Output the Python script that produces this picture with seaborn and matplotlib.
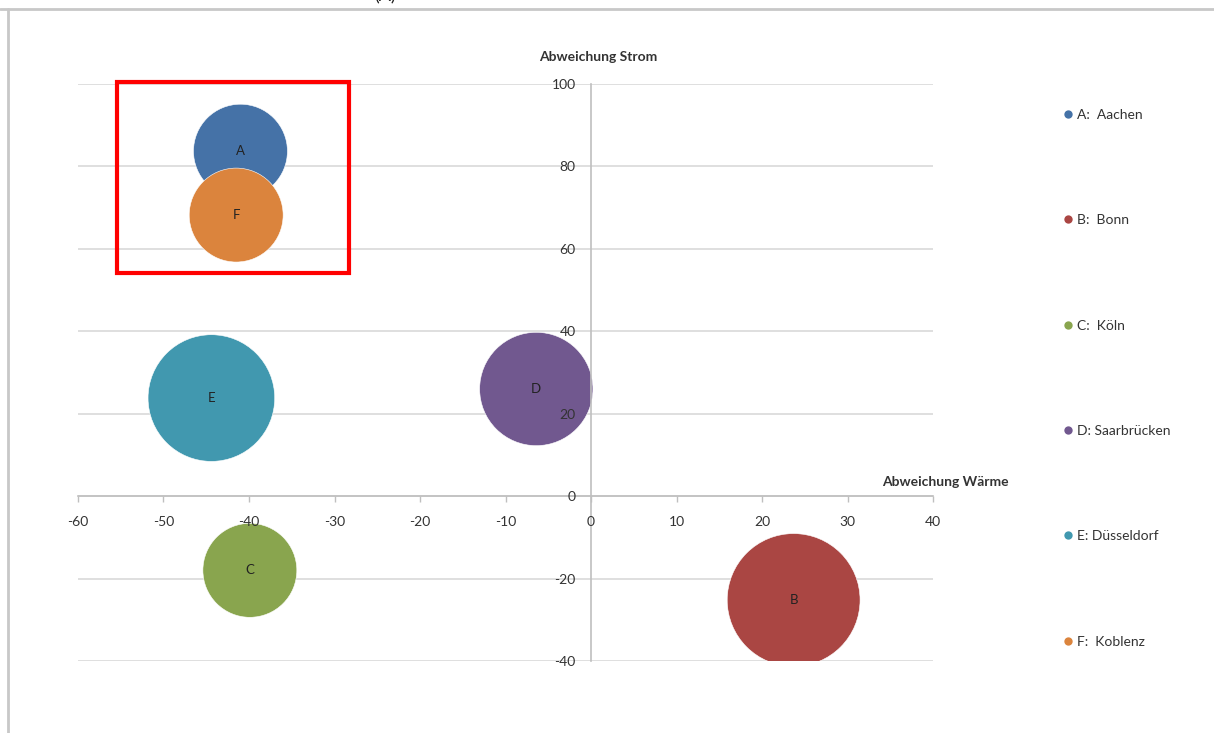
import matplotlib
matplotlib.use("Agg")
import matplotlib.pyplot as plt
from matplotlib.lines import Line2D
from matplotlib.patches import Rectangle
import seaborn as sns
import pandas as pd

# Standorte: Abweichung Wärme (x), Abweichung Strom (y), Blasengröße
kuerzel = ["A", "B", "C", "D", "E", "F"]
staedte = ["A:  Aachen", "B:  Bonn", "C:  Köln", "D: Saarbrücken", "E: Düsseldorf", "F:  Koblenz"]
abw_waerme = [-41.0, 23.7, -39.9, -6.4, -44.4, -41.5]
abw_strom = [83.7, -25.2, -18.0, 26.0, 23.8, 68.2]
groesse = [22, 44, 22, 32, 40, 22]
farben = ["#4572A7", "#AA4643", "#89A54E", "#71588F", "#4198AF", "#DB843D"]

x_ticks = list(range(-60, 41, 10))
y_ticks = list(range(-40, 101, 20))

df = pd.DataFrame({"Stadt": staedte, "Kürzel": kuerzel, "Wärme": abw_waerme,
                   "Strom": abw_strom, "Größe": groesse})

sns.set_theme(style="white")
plt.rcParams["font.family"] = ["Lato", "DejaVu Sans"]
plt.rcParams["axes.unicode_minus"] = False

W, H = 1214, 733
fig = plt.figure(figsize=(W / 100, H / 100), dpi=100)
fig.patch.set_facecolor("white")

# plot area in pixel coordinates
left, right, top, bottom = 78, 933, 84, 661
ax = fig.add_axes([left / W, 1 - bottom / H, (right - left) / W, (bottom - top) / H])
ax.patch.set_alpha(0)

# horizontal grid lines below the bubbles
ax.hlines(y_ticks, x_ticks[0], x_ticks[-1], color="#D9D9D9", lw=1.2, zorder=0)

flaeche_pro_einheit = 208
sns.scatterplot(data=df, x="Wärme", y="Strom", hue="Stadt", palette=farben,
                size="Größe", sizes={g: g * flaeche_pro_einheit for g in set(groesse)},
                edgecolor="white", linewidth=0.4, alpha=1, legend=False, ax=ax, zorder=1)

for k, xv, yv in zip(kuerzel, abw_waerme, abw_strom):
    ax.text(xv, yv, k, ha="center", va="center", fontsize=9.5, color="#222222", zorder=3)

ax.set_xlim(x_ticks[0], x_ticks[-1])
ax.set_ylim(y_ticks[0], y_ticks[-1])
ax.set_xticks(x_ticks)
ax.set_yticks(y_ticks)
ax.set_xlabel("")
ax.set_ylabel("")

for s in ["top", "right"]:
    ax.spines[s].set_visible(False)
ax.spines["left"].set_position(("data", 0))
ax.spines["bottom"].set_position(("data", 0))
for s in ["left", "bottom"]:
    ax.spines[s].set_color("#BFBFBF")
    ax.spines[s].set_linewidth(1.2)
    ax.spines[s].set_zorder(2.5)

ax.tick_params(axis="x", direction="out", length=4, width=1, color="#BFBFBF",
               pad=10, labelsize=10, labelcolor="#333333", bottom=True)
ax.tick_params(axis="y", direction="out", length=0, width=1, color="#BFBFBF",
               pad=11, labelsize=10, labelcolor="#333333", left=True)
# tick labels are drawn on top of the bubbles
ax.xaxis.set_zorder(4)
ax.yaxis.set_zorder(4)

ax.text(0.8, 106.6, "Abweichung Strom", ha="center", va="center",
        fontsize=10, fontweight="bold", color="#333333")
ax.text(41.5, 3.4, "Abweichung Wärme", ha="center", va="center",
        fontsize=10, fontweight="bold", color="#333333", clip_on=False)

# highlighted region around A and F
ax.add_patch(Rectangle((-55.4, 54.1), 27.1, 46.4, fill=False, edgecolor="#FF0000",
                       lw=3, clip_on=False, zorder=5))

# legend
handles = [Line2D([0], [0], marker="o", color="none", markerfacecolor=c,
                  markeredgecolor="none", markersize=6) for c in farben]
fig.legend(handles, staedte, loc="upper left", bbox_to_anchor=(1062 / W, 1 - 109 / H),
           frameon=False, fontsize=10, labelspacing=6.72, handlelength=0.8,
           handletextpad=0.3, borderpad=0, borderaxespad=0, labelcolor="#333333")

# panel frame and heading
fig.add_artist(Line2D([0, 1], [1 - 9 / H, 1 - 9 / H], transform=fig.transFigure,
                      color="#C8C8C8", lw=2))
fig.add_artist(Line2D([8 / W, 8 / W], [0, 1 - 9 / H], transform=fig.transFigure,
                      color="#C8C8C8", lw=2))
fig.text(385 / W, 1 + 4 / H, "(A)", ha="center", va="center", fontsize=13, color="#222222")

fig.savefig("out.png", dpi=100, facecolor="white")
